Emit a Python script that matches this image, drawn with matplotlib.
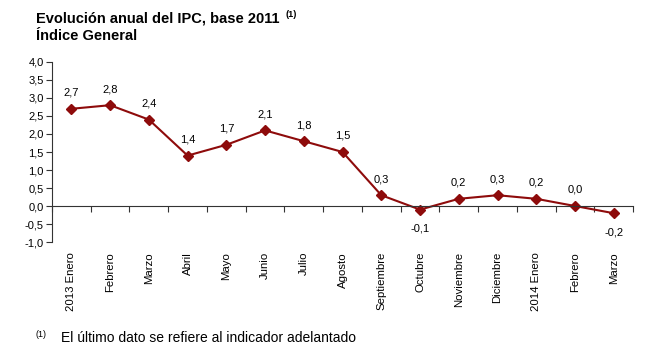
import matplotlib
matplotlib.use("Agg")
import matplotlib.pyplot as plt
from matplotlib.ticker import FuncFormatter, MultipleLocator
import matplotlib.transforms as mtransforms

plt.rcParams["font.family"] = ["Liberation Sans", "DejaVu Sans"]

# datos
meses = ["2013 Enero", "Febrero", "Marzo", "Abril", "Mayo", "Junio", "Julio",
         "Agosto", "Septiembre", "Octubre", "Noviembre", "Diciembre",
         "2014 Enero", "Febrero", "Marzo"]
ipc = [2.7, 2.8, 2.4, 1.4, 1.7, 2.1, 1.8, 1.5, 0.3, -0.1, 0.2, 0.3, 0.2, 0.0, -0.2]

COLOR = "#8e0b0b"

fig = plt.figure(figsize=(6.5, 3.51), dpi=100)
ax = fig.add_axes([0.08, 0.3105, 0.894, 0.5129])

x = list(range(len(ipc)))
ax.plot(x, ipc, color=COLOR, linewidth=1.5, marker="D", markersize=5,
        markerfacecolor=COLOR, markeredgecolor=COLOR)

ax.set_xlim(-0.5, len(ipc) - 0.5)
ax.set_ylim(-1.0, 4.0)
ax.yaxis.set_major_locator(MultipleLocator(0.5))
ax.yaxis.set_major_formatter(FuncFormatter(lambda v, p: f"{v:.1f}".replace(".", ",")))

for s in ["top", "right"]:
    ax.spines[s].set_visible(False)
ax.spines["bottom"].set_position(("data", 0))
ax.spines["left"].set_color("#333333")
ax.spines["bottom"].set_color("#333333")

ax.set_xticks([i + 0.5 for i in range(-1, len(ipc))])
ax.set_xticklabels([])
ax.tick_params(axis="x", direction="out", length=4, color="#333333")
ax.tick_params(axis="y", direction="out", length=4, color="#333333",
               labelsize=8, pad=2)

# etiquetas del eje x debajo del gráfico
trans = mtransforms.blended_transform_factory(ax.transData, ax.transAxes)
for i, m in enumerate(meses):
    ax.text(i, -0.055, m, transform=trans, rotation=90, ha="center", va="top",
            fontsize=8.2)

# etiquetas de datos
for i, v in enumerate(ipc):
    txt = f"{v:.1f}".replace(".", ",")
    if v < 0:
        ax.annotate(txt, (i, v), xytext=(0, -10), textcoords="offset points",
                    ha="center", va="top", fontsize=8)
    else:
        ax.annotate(txt, (i, v), xytext=(0, 8), textcoords="offset points",
                    ha="center", va="bottom", fontsize=8)

# títulos
t1 = fig.text(0.056, 0.927, "Evolución anual del IPC, base 2011", fontsize=10.5,
              fontweight="bold", ha="left", va="bottom")
fig.text(0.056, 0.877, "Índice General", fontsize=10.5, fontweight="bold",
         ha="left", va="bottom")

fig.canvas.draw()
bb = t1.get_window_extent().transformed(fig.transFigure.inverted())
fig.text(bb.x1 + 0.008, 0.945, "(1)", fontsize=6.5, fontweight="bold",
         ha="left", va="bottom")

# nota al pie
fig.text(0.054, 0.035, "(1)", fontsize=6.5, ha="left", va="bottom")
fig.text(0.094, 0.018, "El último dato se refiere al indicador adelantado",
         fontsize=10, ha="left", va="bottom")

fig.savefig("out.png", dpi=100)
